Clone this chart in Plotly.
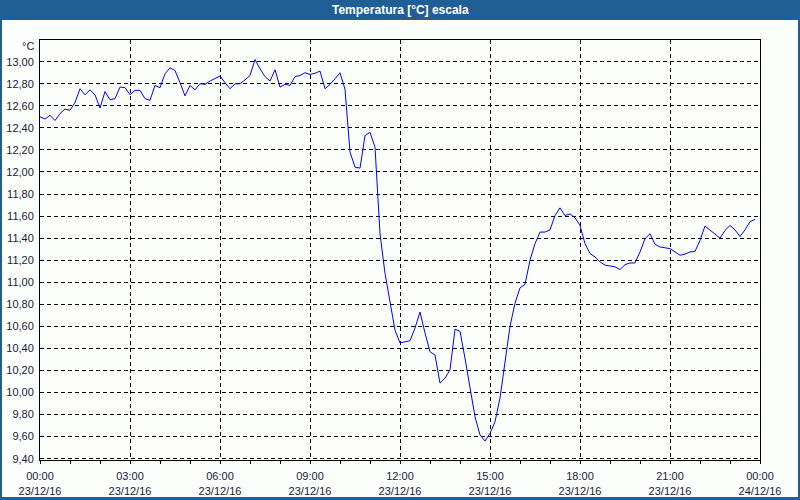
import plotly.graph_objects as go
import pandas as pd

# 10-minute readings, 23/12/16 00:00 .. 23:50
start_time = "2016-12-23 00:00"
n_points = 144
temps = [
    12.50, 12.48, 12.515, 12.467, 12.53, 12.57, 12.56, 12.63, 12.755, 12.70,
    12.745, 12.70, 12.58, 12.73, 12.655, 12.665, 12.77, 12.765, 12.70, 12.74,
    12.74, 12.665, 12.65, 12.785, 12.765, 12.89, 12.945, 12.92, 12.81, 12.69,
    12.785, 12.745, 12.80, 12.795, 12.825, 12.85, 12.87, 12.81, 12.755, 12.80,
    12.80, 12.835, 12.875, 13.02, 12.935, 12.865, 12.825, 12.927, 12.77, 12.795,
    12.785, 12.865, 12.875, 12.90, 12.885, 12.895, 12.915, 12.755, 12.795, 12.845,
    12.90, 12.75, 12.18, 12.044, 12.035, 12.33, 12.36, 12.225, 11.44, 11.08,
    10.84, 10.565, 10.45, 10.46, 10.47, 10.585, 10.73, 10.54, 10.37, 10.34,
    10.085, 10.13, 10.205, 10.575, 10.555, 10.31, 10.055, 9.78, 9.615, 9.56,
    9.63, 9.735, 9.95, 10.28, 10.60, 10.81, 10.95, 10.98, 11.20, 11.35,
    11.455, 11.455, 11.475, 11.605, 11.675, 11.605, 11.62, 11.585, 11.515, 11.35,
    11.26, 11.23, 11.185, 11.155, 11.15, 11.14, 11.115, 11.16, 11.175, 11.175,
    11.275, 11.395, 11.44, 11.345, 11.32, 11.315, 11.305, 11.275, 11.245, 11.255,
    11.275, 11.28, 11.38, 11.51, 11.475, 11.44, 11.40, 11.47, 11.515, 11.475,
    11.415, 11.475, 11.55, 11.57,
]
y_ticks = [9.4, 9.6, 9.8, 10.0, 10.2, 10.4, 10.6, 10.8, 11.0, 11.2, 11.4,
           11.6, 11.8, 12.0, 12.2, 12.4, 12.6, 12.8, 13.0]
title_text = "Temperatura [°C] escala"
unit_text = "°C"

times = pd.date_range(start_time, periods=n_points, freq="10min")

W, H = 800, 500
ML, MR, MT, MB = 40, 40, 40, 40
PW, PH = W - ML - MR, H - MT - MB


def px2x(px):
    return (px - ML) / PW


def py2y(py):
    return (H - MB - py) / PH


BLUE = "#1f5f96"
TXT = "#1a1a38"
FONT = "Liberation Sans"

fig = go.Figure()
fig.add_trace(go.Scatter(x=times, y=temps, mode="lines",
                         line=dict(color="#0000ff", width=1),
                         hoverinfo="skip"))

shapes = [
    dict(type="rect", xref="paper", yref="paper", x0=px2x(0), x1=px2x(800),
         y0=py2y(20), y1=py2y(0), fillcolor=BLUE, line=dict(width=0), layer="above"),
    dict(type="rect", xref="paper", yref="paper", x0=px2x(0), x1=px2x(2),
         y0=py2y(500), y1=py2y(0), fillcolor=BLUE, line=dict(width=0), layer="above"),
    dict(type="rect", xref="paper", yref="paper", x0=px2x(798), x1=px2x(800),
         y0=py2y(500), y1=py2y(0), fillcolor=BLUE, line=dict(width=0), layer="above"),
    dict(type="rect", xref="paper", yref="paper", x0=px2x(0), x1=px2x(800),
         y0=py2y(500), y1=py2y(497), fillcolor=BLUE, line=dict(width=0), layer="above"),
]

annotations = [
    dict(text="<b>" + title_text + "</b>", xref="paper", yref="paper",
         x=0.5, y=py2y(10), xanchor="center", yanchor="middle", showarrow=False,
         font=dict(family=FONT, size=12, color="white")),
    dict(text=unit_text, xref="paper", yref="paper", x=px2x(36), y=py2y(46),
         xanchor="right", yanchor="middle", showarrow=False,
         font=dict(family=FONT, size=11, color=TXT)),
]

fig.update_layout(
    width=W, height=H,
    margin=dict(l=ML, r=MR, t=MT, b=MB, pad=0, autoexpand=False),
    paper_bgcolor="#fcfefc", plot_bgcolor="#fcfefc",
    separators=",.",
    showlegend=False,
    font=dict(family=FONT, size=11, color=TXT),
    shapes=shapes, annotations=annotations,
    xaxis=dict(
        type="date", automargin=False,
        range=["2016-12-23 00:00", "2016-12-24 00:00"],
        tick0="2016-12-23 00:00", dtick=3 * 3600000,
        tickformat="%H:%M<br>%d/%m/%y",
        ticks="outside", ticklen=3, tickcolor="black", tickwidth=1,
        ticklabelstandoff=3,
        minor=dict(dtick=3600000, ticks="outside", ticklen=3,
                   tickcolor="black", showgrid=False),
        showgrid=True, gridcolor="black", gridwidth=1, griddash="4px,3px",
        showline=True, linecolor="black", linewidth=1, mirror=True,
        zeroline=False, tickfont=dict(family=FONT, size=11, color=TXT),
    ),
    yaxis=dict(
        automargin=False,
        range=[9.388, 13.197],
        tickvals=y_ticks, tickformat=".2f",
        ticks="", ticklabelstandoff=3,
        showgrid=True, gridcolor="black", gridwidth=1,
        griddash="4px,3px",
        showline=True, linecolor="black", linewidth=1, mirror=True,
        zeroline=False, tickfont=dict(family=FONT, size=11, color=TXT),
    ),
)

fig.write_html("out.html")
